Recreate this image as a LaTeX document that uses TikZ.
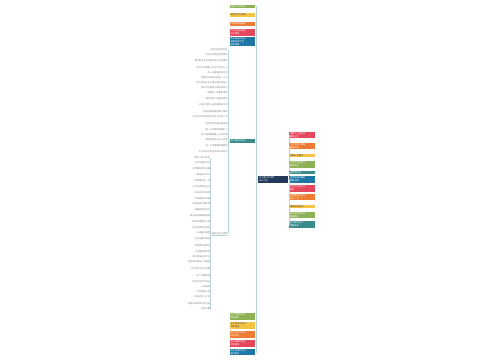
\documentclass[tikz,border=0pt]{standalone}
\usepackage{fontspec}
\newfontfamily\cjk{Noto Sans CJK SC}
\XeTeXlinebreaklocale "zh"
\definecolor{mgreen}{HTML}{8DB255}
\definecolor{myellow}{HTML}{F6C445}
\definecolor{morange}{HTML}{EE7D33}
\definecolor{mred}{HTML}{E5475C}
\definecolor{mblue}{HTML}{1F77A5}
\definecolor{mteal}{HTML}{3A8C8C}
\definecolor{mnavy}{HTML}{23395B}
\definecolor{mline}{HTML}{B3D3D4}
\tikzset{
  topic/.style={inner sep=0.8pt, text width=24pt, align=left,
    font=\cjk\fontsize{2.2}{2.8}\selectfont, text=white},
  leaf/.style={inner sep=0.3pt, font=\cjk\fontsize{2.2}{2.8}\selectfont, text=black!50},
  link/.style={draw=mline, line width=0.3pt}
}
\begin{document}
\begin{tikzpicture}[x=1pt,y=-1pt]
    \useasboundingbox (0,0) rectangle (500,360);
    % Root in the middle
    \node[topic, fill=mnavy, text width=28pt, inner sep=1pt] (root) at (273,179.5) {关于美好生活的\\句子大全};
    % Right branch
    \foreach \i/\y/\c/\k/\t in {1/135/mred/white/{温暖人心的句子\\精选分享},
        2/146/morange/white/{生活中的小确幸\\值得记录},
        3/155.5/myellow/black!70/{简短好句摘抄},
        4/164.5/mgreen/white/{关于梦想的句子\\经典语录},
        5/172.5/mteal/white/{治愈系短句},
        6/179.5/mblue/white/{适合发朋友圈的\\温柔文案},
        7/188.5/mred/white/{关于时光的句子\\精选},
        8/197/morange/white/{正能量励志句子\\每日一句},
        9/206.5/myellow/black!70/{唯美诗意短句},
        10/215/mgreen/white/{关于友情的句子\\经典摘录},
        11/224.5/mteal/white/{关于家的句子\\温馨语录}} {
      \node[topic, fill=\c, text=\k, anchor=west] (r\i) at (289,\y) {\t};
      \draw[link] (root.east) -- ++(1,0) |- (r\i.west);
    }
    % Left branch, top and bottom topics
    \foreach \i/\y/\c/\k/\t in {1/6.5/mgreen/white/{温暖人心的句子},
        2/15/myellow/black!70/{简短有力的文案},
        3/24/morange/white/{适合发朋友圈的},
        4/32.5/mred/white/{关于生活的感悟\\句子精选},
        5/41.5/mblue/white/{关于成长的句子\\经典语录大全\\值得收藏},
        6/316.5/mgreen/white/{关于青春的句子\\精选摘抄},
        7/325.5/myellow/black!70/{关于自然的句子\\优美段落},
        8/334.5/morange/white/{关于努力的句子\\励志短句},
        9/343.5/mred/white/{关于爱情的句子\\浪漫语录},
        10/352/mblue/white/{关于未来的句子\\美好期许}} {
      \node[topic, fill=\c, text=\k, anchor=east] (l\i) at (255.5,\y) {\t};
      \draw[link] (root.west) -- ++(-1.5,0) |- (l\i.east);
    }
    % Left branch, middle topic with its leaves
    \node[topic, fill=mteal, anchor=east] (mid) at (255.5,141) {关于美好的句子};
    \draw[link] (root.west) -- ++(-1.5,0) |- (mid.east);
    \foreach \i/\y/\t in {1/50/心若向阳无畏悲伤, 2/55/生活总有美好值得等待,
        3/61/愿你走出半生归来仍是少年的模样, 4/68/星光不问赶路人时光不负有心人,
        5/73/每一天都是新的开始, 6/78/温柔地对待身边的每一个人,
        7/83/努力的意义在于遇见更好的自己, 8/88/把日子过成自己喜欢的样子,
        9/93/慢慢来一切都来得及, 10/99/晚风吹起了温柔的思念,
        11/105/认真生活的人总会被温柔以待, 12/112/所有的美好都在路上等你,
        13/117/不念过往不畏将来珍惜当下的每一刻, 14/124/时间会给出最好的答案,
        15/130/做一个安静而温暖的人, 16/135/山川湖海都藏着小小的浪漫,
        17/140/愿你眼里有光心中有爱, 18/146/每一个清晨都值得期待,
        19/152/平凡的日子里也有闪光的时刻} {
      \node[leaf, anchor=east] (u\i) at (228,\y) {\t};
      \draw[link] (mid.west) -- ++(-1,0) |- (u\i.east);
    }
    % Sub topic with the lower leaves
    \node[leaf, anchor=east] (sub) at (228,233.5) {更多好句子推荐};
    \draw[link] (mid.west) -- ++(-1,0) |- (sub.east);
    \draw[link] (sub.south west) -- (sub.south east);
    \foreach \i/\y/\t in {1/158/春风十里不如你, 2/163/花开花落终有时,
        3/169/岁月静好现世安稳, 4/175/一路向前不回头, 5/181/微笑面对每一天,
        6/187/心中有梦就有远方, 7/193/阳光总在风雨后, 8/199/珍惜眼前的幸福,
        9/204/平安喜乐万事胜意, 10/210/温暖如初的时光, 11/216/愿所有的等待都值得,
        12/222/保持热爱奔赴山海, 13/228/好好吃饭好好睡觉, 14/233/日子越过越甜,
        15/239/今天也要加油呀, 16/246/世界因你而美好, 17/252/心怀感恩常知足,
        18/257/清风徐来水波不兴, 19/262/星河滚烫你是人间理想, 20/269/少年的梦永远不落幕,
        21/276/一步一步慢慢走, 22/282/热爱可抵岁月漫长, 23/287/人间值得,
        24/292/时光温柔以待, 25/297/做自己的小太阳, 26/304/所遇皆美好所行皆坦途,
        27/309/未来可期} {
      \node[leaf, anchor=east] (d\i) at (210.5,\y) {\t};
      \draw[link] (sub.west) -- ++(-1,0) |- (d\i.east);
    }
\end{tikzpicture}
\end{document}
